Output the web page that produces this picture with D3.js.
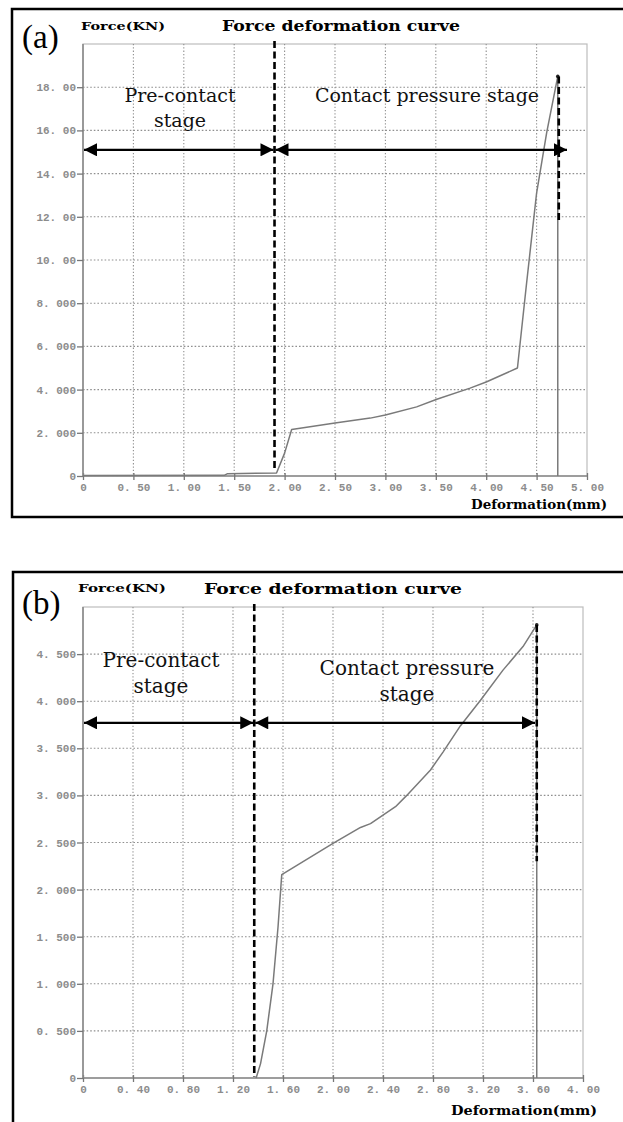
<!DOCTYPE html>
<html>
<head>
<meta charset="utf-8">
<script src="https://cdn.jsdelivr.net/npm/d3@7/dist/d3.min.js"></script>
<style>
  body { margin: 0; background: #fff; }
  svg { display: block; }
  .tick-label { font-family: "Liberation Mono", monospace; font-size: 11px; font-weight: bold; fill: #8c8c8c; }
</style>
</head>
<body>
<div class="chart"></div>
<script>
// panel (a) curve, deformation (mm) vs force (kN)
const defA = [0, 1.40, 1.43, 1.92, 2.00, 2.07, 2.50, 2.85, 3.00, 3.31, 3.51, 3.84, 4.00, 4.31, 4.40, 4.50, 4.60, 4.71, 4.71];
const forceA = [0.02, 0.03, 0.10, 0.14, 1.06, 2.15, 2.45, 2.68, 2.82, 3.20, 3.55, 4.07, 4.35, 5.00, 8.90, 13.1, 15.9, 18.5, 0];
// panel (b) curve
const defB = [1.385, 1.42, 1.47, 1.52, 1.56, 1.59, 2.00, 2.22, 2.30, 2.50, 2.59, 2.78, 2.88, 3.02, 3.18, 3.36, 3.52, 3.63, 3.63];
const forceB = [0, 0.15, 0.50, 1.00, 1.60, 2.16, 2.49, 2.66, 2.70, 2.88, 3.00, 3.27, 3.46, 3.74, 4.01, 4.33, 4.58, 4.81, 0];

const xTicksA = [0, 0.5, 1, 1.5, 2, 2.5, 3, 3.5, 4, 4.5, 5];
const xLabelsA = ['0', '0. 50', '1. 00', '1. 50', '2. 00', '2. 50', '3. 00', '3. 50', '4. 00', '4. 50', '5. 00'];
const yTicksA = [0, 2, 4, 6, 8, 10, 12, 14, 16, 18];
const yLabelsA = ['0', '2. 000', '4. 000', '6. 000', '8. 000', '10. 00', '12. 00', '14. 00', '16. 00', '18. 00'];

const xTicksB = [0, 0.4, 0.8, 1.2, 1.6, 2.0, 2.4, 2.8, 3.2, 3.6, 4.0];
const xLabelsB = ['0', '0. 40', '0. 80', '1. 20', '1. 60', '2. 00', '2. 40', '2. 80', '3. 20', '3. 60', '4. 00'];
const yTicksB = [0, 0.5, 1, 1.5, 2, 2.5, 3, 3.5, 4, 4.5];
const yLabelsB = ['0', '0. 500', '1. 000', '1. 500', '2. 000', '2. 500', '3. 000', '3. 500', '4. 000', '4. 500'];

// stage boundaries: [contact start, failure point, arrow force level, right dashed bottom]
const stagesA = [1.90, 4.72, 15.1, 11.7];
const stagesB = [1.37, 3.63, 3.77, 2.3];

const svg = d3.select('.chart')
  .append('svg')
  .attr('width', 623)
  .attr('height', 1122);

const defs = svg.append('defs');
['arrowEnd', 'arrowStart'].forEach((id, i) => {
  defs.append('marker')
    .attr('id', id)
    .attr('viewBox', '0 0 10 10')
    .attr('refX', i === 0 ? 10 : 0)
    .attr('refY', 5)
    .attr('markerUnits', 'userSpaceOnUse')
    .attr('markerWidth', 18)
    .attr('markerHeight', 13)
    .attr('orient', 'auto')
    .append('path')
    .attr('d', i === 0 ? 'M0,0 L10,5 L0,10 Z' : 'M10,0 L0,5 L10,10 Z')
    .attr('fill', '#000');
});

function drawPanel(p) {
  // outer frame
  svg.append('rect')
    .attr('x', p.frame[0])
    .attr('y', p.frame[1])
    .attr('width', p.frame[2])
    .attr('height', p.frame[3])
    .attr('fill', 'none')
    .attr('stroke', '#000')
    .attr('stroke-width', 2.5);

  const x = d3.scaleLinear().domain(p.xDomain).range([p.left, p.right]);
  const y = d3.scaleLinear().domain(p.yDomain).range([p.bottom, p.top]);
  const g = svg.append('g');

  // plot box (top/right light)
  g.append('rect')
    .attr('x', p.left).attr('y', p.top)
    .attr('width', p.right - p.left).attr('height', p.bottom - p.top)
    .attr('fill', 'none').attr('stroke', '#bdbdbd').attr('stroke-width', 1.2);

  // grid
  g.selectAll('.vgrid')
    .data(p.xTicks.slice(1, -1))
    .enter()
    .append('line')
    .attr('x1', (d) => x(d)).attr('x2', (d) => x(d))
    .attr('y1', p.top).attr('y2', p.bottom)
    .attr('stroke', '#8f8f8f').attr('stroke-width', 1.1)
    .attr('stroke-dasharray', '1.3,2');
  g.selectAll('.hgrid')
    .data(p.yTicks.slice(1))
    .enter()
    .append('line')
    .attr('x1', p.left).attr('x2', p.right)
    .attr('y1', (d) => y(d)).attr('y2', (d) => y(d))
    .attr('stroke', '#8f8f8f').attr('stroke-width', 1.1)
    .attr('stroke-dasharray', '1.6,2');

  // axes
  const xAxis = g.append('g')
    .attr('transform', `translate(0, ${p.bottom})`)
    .call(d3.axisBottom(x).tickValues(p.xTicks).tickSize(4).tickFormat((d, i) => p.xLabels[i]));
  xAxis.selectAll('.tick line').attr('stroke', '#777').attr('stroke-width', 1.3).attr('y1', -3);
  xAxis.selectAll('.tick text').attr('class', 'tick-label').attr('dy', '0.3em').attr('y', 12);

  const yAxis = g.append('g')
    .attr('transform', `translate(${p.left}, 0)`)
    .call(d3.axisLeft(y).tickValues(p.yTicks).tickSize(6).tickPadding(1).tickFormat((d, i) => p.yLabels[i]));
  yAxis.selectAll('.tick line').attr('stroke', '#777').attr('stroke-width', 1.3);
  yAxis.selectAll('.tick text').attr('class', 'tick-label');
  xAxis.select('.domain').attr('stroke', '#8a8a8a').attr('stroke-width', 1.6).attr('d', `M${p.left},0H${p.right}`);
  yAxis.select('.domain').attr('stroke', '#8a8a8a').attr('stroke-width', 1.6).attr('d', `M0,${p.bottom}V${p.top}`);

  // curve
  const pts = p.xs.map((d, i) => [d, p.ys[i]]);
  g.append('path')
    .datum(pts)
    .attr('fill', 'none')
    .attr('stroke', '#7a7a7a')
    .attr('stroke-width', 1.5)
    .attr('stroke-linejoin', 'round')
    .attr('d', d3.line().x((d) => x(d[0])).y((d) => y(d[1])));

  // peak dot
  const peak = pts[pts.length - 2];
  g.append('circle')
    .attr('cx', x(peak[0])).attr('cy', y(peak[1])).attr('r', 1.8).attr('fill', '#222');

  // stage divider dashed lines
  g.append('line')
    .attr('x1', x(p.stages[0])).attr('x2', x(p.stages[0]))
    .attr('y1', p.top - 3).attr('y2', p.dividerBottom)
    .attr('stroke', '#000').attr('stroke-width', 2.6).attr('stroke-dasharray', '7,3.5');
  g.append('line')
    .attr('x1', x(p.stages[1])).attr('x2', x(p.stages[1]))
    .attr('y1', y(peak[1])).attr('y2', y(p.stages[3]))
    .attr('stroke', '#000').attr('stroke-width', 2.6).attr('stroke-dasharray', '7,3.5');

  // arrows
  const ay = y(p.stages[2]);
  g.append('line')
    .attr('x1', p.left + 1).attr('x2', x(p.stages[0]) - 1)
    .attr('y1', ay).attr('y2', ay)
    .attr('stroke', '#000').attr('stroke-width', 2.4)
    .attr('marker-start', 'url(#arrowStart)').attr('marker-end', 'url(#arrowEnd)');
  g.append('line')
    .attr('x1', x(p.stages[0]) + 1).attr('x2', p.arrowRight)
    .attr('y1', ay).attr('y2', ay)
    .attr('stroke', '#000').attr('stroke-width', 2.4)
    .attr('marker-start', 'url(#arrowStart)').attr('marker-end', 'url(#arrowEnd)');

  // stage labels
  p.stageText.forEach((t) => {
    g.append('text')
      .attr('x', t[0]).attr('y', t[1])
      .attr('text-anchor', 'middle')
      .style('font-family', '"DejaVu Serif", serif')
      .style('font-size', `${p.stageFont}px`)
      .attr('fill', '#111')
      .text(t[2]);
  });

  // panel letter
  svg.append('text')
    .attr('x', p.letter[0]).attr('y', p.letter[1])
    .style('font-family', '"Liberation Serif", serif')
    .style('font-size', '33px')
    .attr('fill', '#000')
    .text(p.letter[2]);

  // y axis name
  svg.append('text')
    .attr('x', p.yName[0]).attr('y', p.yName[1])
    .attr('textLength', p.yName[2]).attr('lengthAdjust', 'spacingAndGlyphs')
    .style('font-family', '"DejaVu Serif", serif')
    .style('font-weight', 'bold')
    .style('font-size', '11px')
    .text('Force(KN)');

  // title
  svg.append('text')
    .attr('x', p.title[0]).attr('y', p.title[1])
    .attr('textLength', p.title[2]).attr('lengthAdjust', 'spacingAndGlyphs')
    .style('font-family', '"DejaVu Serif", serif')
    .style('font-weight', 'bold')
    .style('font-size', '14px')
    .text('Force deformation curve');

  // x axis name
  svg.append('text')
    .attr('x', p.xName[0]).attr('y', p.xName[1])
    .attr('textLength', p.xName[2]).attr('lengthAdjust', 'spacingAndGlyphs')
    .style('font-family', '"DejaVu Serif", serif')
    .style('font-weight', 'bold')
    .style('font-size', '13px')
    .text('Deformation(mm)');
}

drawPanel({
  frame: [12, 9, 640, 508],
  left: 83, right: 587, top: 44, bottom: 476,
  xDomain: [0, 5], yDomain: [0, 20],
  xTicks: xTicksA, xLabels: xLabelsA, yTicks: yTicksA, yLabels: yLabelsA,
  xs: defA, ys: forceA, stages: stagesA,
  dividerBottom: 471, arrowRight: 567,
  stageFont: 19,
  stageText: [[180, 102, 'Pre-contact'], [180, 127, 'stage'], [427, 102, 'Contact pressure stage']],
  letter: [22, 48, '(a)'],
  yName: [81, 30, 84],
  title: [222, 31, 238],
  xName: [471, 509, 136]
});

drawPanel({
  frame: [13, 572, 640, 600],
  left: 83, right: 583, top: 607, bottom: 1078,
  xDomain: [0, 4], yDomain: [0, 5],
  xTicks: xTicksB, xLabels: xLabelsB, yTicks: yTicksB, yLabels: yLabelsB,
  xs: defB, ys: forceB, stages: stagesB,
  dividerBottom: 1077, arrowRight: 535,
  stageFont: 20,
  stageText: [[161, 667, 'Pre-contact'], [161, 693, 'stage'], [407, 675, 'Contact pressure'], [407, 701, 'stage']],
  letter: [22, 614, '(b)'],
  yName: [78, 592, 88],
  title: [204, 594, 258],
  xName: [451, 1115, 146]
});
</script>
</body>
</html>
